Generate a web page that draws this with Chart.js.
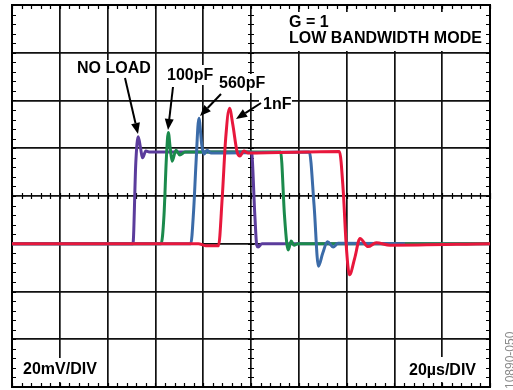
<!DOCTYPE html>
<html>
<head>
<meta charset="utf-8">
<script src="https://cdn.jsdelivr.net/npm/chart.js@4.4.1/dist/chart.umd.min.js"></script>
<style>
  html, body { margin: 0; padding: 0; background: #fff; }
  #wrap { width: 513px; height: 390px; }
</style>
</head>
<body>
<div id="wrap"><canvas id="scope"></canvas></div>
<script>
// time in divisions (20us/div), level in divisions (20mV/div)
const noLoadX = [0, 2.45, 2.53, 2.59, 2.64, 2.69, 2.73, 2.80, 2.89, 5.01, 5.08, 5.12, 5.15, 5.23, 10];
const noLoadY = [3.0, 3.0, 3.0, 4.70, 5.24, 5.00, 4.80, 4.94, 4.92, 4.92, 3.60, 2.97, 2.93, 3.0, 3.0];

const pf100X = [0, 3.12, 3.18, 3.23, 3.27, 3.31, 3.35, 3.43, 3.51, 3.62, 5.62, 5.70, 5.75, 5.78, 5.84, 5.90, 5.98, 10];
const pf100Y = [3.0, 3.0, 3.6, 4.80, 5.33, 5.00, 4.73, 4.96, 4.86, 4.92, 4.92, 3.60, 3.0, 2.87, 3.06, 2.97, 3.0, 3.0];

const pf560X = [0, 3.74, 3.80, 3.85, 3.91, 3.97, 4.02, 4.08, 4.16, 6.22, 6.32, 6.41, 6.50, 6.60, 6.72, 6.82, 8.22];
const pf560Y = [3.0, 3.0, 3.70, 4.70, 5.63, 5.07, 4.88, 4.96, 4.90, 4.92, 3.80, 2.53, 2.80, 3.04, 2.93, 3.01, 3.0];

const nf1X = [0, 3.90, 4.05, 4.32, 4.40, 4.47, 4.55, 4.62, 4.71, 4.77, 4.85, 4.94, 6.85, 6.93, 6.99, 7.06, 7.17, 7.28, 7.45, 7.62, 7.91, 10];
const nf1Y = [3.0, 3.0, 2.96, 2.96, 4.0, 5.20, 5.84, 5.49, 4.92, 4.84, 4.94, 4.90, 4.93, 4.10, 3.0, 2.35, 2.70, 3.11, 2.94, 3.02, 2.97, 3.0];

const traceNames = ['1nF', '560pF', '100pF', 'NO LOAD'];
const traceColors = ['#E8173C', '#3B6BA8', '#1B8A4C', '#5B3C9C'];

function pts(xs, ys) {
    return xs.map((x, i) => ({ x: x, y: ys[i] }));
}

const traces = [pts(nf1X, nf1Y), pts(pf560X, pf560Y), pts(pf100X, pf100Y), pts(noLoadX, noLoadY)];

const FONT = 'bold 16px "Liberation Sans", Arial, sans-serif';

function arrow(ctx, x1, y1, x2, y2) {
    const ang = Math.atan2(y2 - y1, x2 - x1);
    const len = 11, half = 4.5;
    const bx = x2 - Math.cos(ang) * len, by = y2 - Math.sin(ang) * len;
    ctx.strokeStyle = '#000';
    ctx.lineWidth = 2;
    ctx.beginPath();
    ctx.moveTo(x1, y1);
    ctx.lineTo(bx, by);
    ctx.stroke();
    ctx.fillStyle = '#000';
    ctx.beginPath();
    ctx.moveTo(x2, y2);
    ctx.lineTo(bx + Math.sin(ang) * half, by - Math.cos(ang) * half);
    ctx.lineTo(bx - Math.sin(ang) * half, by + Math.cos(ang) * half);
    ctx.closePath();
    ctx.fill();
}

function label(ctx, text, x, y, box) {
    if (box) {
        ctx.fillStyle = '#fff';
        ctx.fillRect(box[0], box[1], box[2], box[3]);
    }
    ctx.fillStyle = '#000';
    ctx.font = FONT;
    ctx.textBaseline = 'middle';
    ctx.textAlign = 'left';
    ctx.fillText(text, x, y);
}

const scopeDecor = {
    id: 'scopeDecor',
    beforeDatasetsDraw(chart) {
        const { ctx, chartArea: a, scales } = chart;
        const xs = scales.x, ys = scales.y;
        const cx = xs.getPixelForValue(5), cy = ys.getPixelForValue(4);
        ctx.save();
        ctx.strokeStyle = '#000';
        ctx.lineWidth = 1.2;
        ctx.beginPath();
        for (let v = 0; v <= 10.001; v += 0.2) {
            const p = Math.round(xs.getPixelForValue(v)) + 0.5;
            ctx.moveTo(p, a.top); ctx.lineTo(p, a.top + 4);
            ctx.moveTo(p, a.bottom); ctx.lineTo(p, a.bottom - 4);
            ctx.moveTo(p, cy - 3); ctx.lineTo(p, cy + 3);
        }
        for (let v = 0; v <= 8.001; v += 0.2) {
            const p = Math.round(ys.getPixelForValue(v)) + 0.5;
            ctx.moveTo(a.left, p); ctx.lineTo(a.left + 4, p);
            ctx.moveTo(a.right, p); ctx.lineTo(a.right - 4, p);
            ctx.moveTo(cx - 3, p); ctx.lineTo(cx + 3, p);
        }
        ctx.stroke();
        ctx.lineWidth = 2;
        ctx.strokeRect(a.left, a.top, a.right - a.left, a.bottom - a.top);
        ctx.restore();
    },
    afterDatasetsDraw(chart) {
        const ctx = chart.ctx;
        ctx.save();
        // white label boxes and text
        label(ctx, 'G = 1', 289, 23, [284, 12, 202, 39]);
        label(ctx, 'LOW BANDWIDTH MODE', 289, 38.5, null);
        label(ctx, 'NO LOAD', 77, 68.5, [74, 60, 80, 18]);
        label(ctx, '100pF', 167, 76, [164, 65, 49, 20]);
        label(ctx, '560pF', 219, 84, [216, 74, 52, 19]);
        label(ctx, '1nF', 263, 104.5, [259, 95, 33, 18]);
        label(ctx, '20mV/DIV', 23, 370, [18, 358, 82, 24]);
        label(ctx, '20\u00b5s/DIV', 409, 370.5, [404, 357, 77, 25]);

        arrow(ctx, 125, 78, 138, 134);
        arrow(ctx, 173, 87, 168, 130);
        arrow(ctx, 221, 94, 200, 116);
        arrow(ctx, 261, 103, 236, 119);

        // figure id along the right edge
        ctx.translate(505, 389);
        ctx.rotate(-Math.PI / 2);
        ctx.fillStyle = '#8a8a8a';
        ctx.font = '12px "Liberation Sans", Arial, sans-serif';
        ctx.textBaseline = 'top';
        ctx.fillText('10890-050', 0, 0);
        ctx.restore();
    }
};

const ctx = document.getElementById('scope').getContext('2d');
const chart = new Chart(ctx, {
    type: 'line',
    data: {
        datasets: traces.map((d, i) => ({
            label: traceNames[i],
            data: d,
            borderColor: traceColors[i],
            borderWidth: 3,
            pointRadius: 0,
            fill: false,
            cubicInterpolationMode: 'monotone',
        }))
    },
    options: {
        responsive: true,
        maintainAspectRatio: false,
        animation: false,
        layout: { padding: { left: 12, top: 5, right: 23, bottom: 3 } },
        plugins: {
            legend: { display: false },
            tooltip: { enabled: false },
        },
        scales: {
            x: {
                type: 'linear',
                min: 0,
                max: 10,
                ticks: { display: false, stepSize: 1 },
                grid: { color: '#111', lineWidth: 1.7, drawTicks: false },
                border: { display: false },
            },
            y: {
                type: 'linear',
                min: 0,
                max: 8,
                ticks: { display: false, stepSize: 1 },
                grid: { color: '#111', lineWidth: 1.7, drawTicks: false },
                border: { display: false },
            }
        }
    },
    plugins: [scopeDecor]
});
</script>
</body>
</html>
